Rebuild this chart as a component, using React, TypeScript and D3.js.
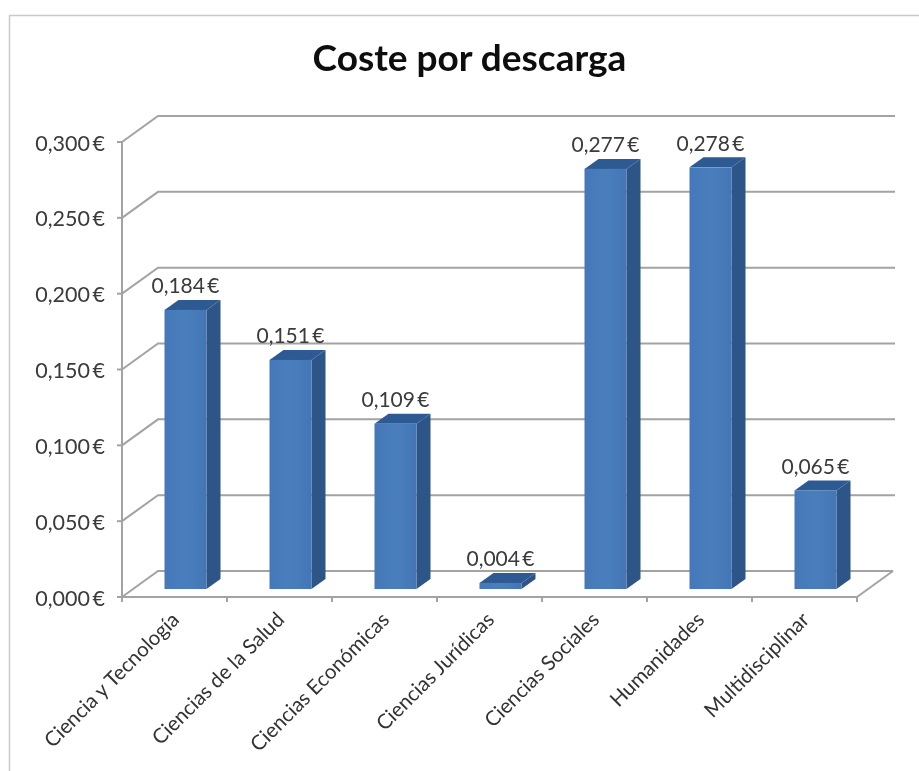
import React, { useEffect, useRef } from 'react';
import * as d3 from 'd3';

const categories = [
  'Ciencia y Tecnología',
  'Ciencias de la Salud',
  'Ciencias Económicas',
  'Ciencias Jurídicas',
  'Ciencias Sociales',
  'Humanidades',
  'Multidisciplinar',
];
const costs = [0.184, 0.151, 0.109, 0.004, 0.277, 0.278, 0.065];
const yTicks = [0, 0.05, 0.1, 0.15, 0.2, 0.25, 0.3];

const fmt = (v: number) => v.toFixed(3).replace('.', ',') + ' €';
const FONT = 'Lato, "Open Sans", sans-serif';
const GRID = '#a3a3a3';

const App: React.FC = () => {
  const svgRef = useRef<SVGSVGElement>(null);

  useEffect(() => {
    if (!svgRef.current) return;
    const svg = d3.select(svgRef.current);
    svg.selectAll('*').remove();

    // slight softness, the source is a scaled screenshot
    const defs = svg.append('defs');
    defs.append('filter')
      .attr('id', 'soft')
      .append('feGaussianBlur')
      .attr('stdDeviation', 0.6);
    const grad = defs.append('linearGradient')
      .attr('id', 'front')
      .attr('x1', 0)
      .attr('x2', 1)
      .attr('y1', 0)
      .attr('y2', 0);
    grad.append('stop').attr('offset', 0).attr('stop-color', '#4478b8');
    grad.append('stop').attr('offset', 0.5).attr('stop-color', '#4a7ebd');
    grad.append('stop').attr('offset', 1).attr('stop-color', '#4376b5');
    const root = svg.append('g').attr('filter', 'url(#soft)');

    // chart frame
    root.append('path')
      .attr('d', 'M9.5,771V15.5H919')
      .attr('fill', 'none')
      .attr('stroke', '#c9c9c9')
      .attr('stroke-width', 1.5);

    root.append('text')
      .attr('x', 469.5)
      .attr('y', 71)
      .attr('text-anchor', 'middle')
      .attr('font-family', FONT)
      .attr('font-weight', 700)
      .attr('font-size', 37)
      .attr('fill', '#111')
      .text('Coste por descarga');

    const x = d3.scaleBand().domain(categories).range([122, 857]);
    const y = d3.scaleLinear().domain([0, 0.3]).range([597, 142]);

    // 3D offsets
    const wall = { dx: 36, dy: -26 };
    const barFront = { dx: 11, dy: -8 };
    const barDepth = { dx: 14, dy: -10 };
    const barWidth = 42;

    // gridlines on back wall and the side wall diagonals
    const grid = root.append('g').attr('fill', 'none').attr('stroke', GRID).attr('stroke-width', 2);
    yTicks.forEach(t => {
      const rightX = t === 0 ? 857 + wall.dx : 857 + wall.dx + 2;
      grid.append('path').attr(
        'd',
        d3.line()([
          [x.range()[0], y(t)],
          [x.range()[0] + wall.dx, y(t) + wall.dy],
          [rightX, y(t) + wall.dy],
        ]) as string
      );
    });
    grid.append('path').attr(
      'd',
      d3.line()([
        [857, y(0)],
        [857 + wall.dx, y(0) + wall.dy],
      ]) as string
    );

    // axes
    const axes = root.append('g').attr('stroke', GRID).attr('stroke-width', 2).attr('fill', 'none');
    axes.append('line').attr('x1', 122).attr('x2', 122).attr('y1', y(0.3)).attr('y2', y(0) + 4);
    axes.append('line').attr('x1', 122).attr('x2', 857).attr('y1', y(0)).attr('y2', y(0));
    yTicks.forEach(t => {
      axes.append('line').attr('x1', 117).attr('x2', 122).attr('y1', y(t)).attr('y2', y(t));
    });
    [...categories.map(c => x(c) as number), 857].forEach(px => {
      axes.append('line').attr('x1', px).attr('x2', px).attr('y1', y(0)).attr('y2', y(0) + 5);
    });

    root.append('g')
      .selectAll('text')
      .data(yTicks)
      .enter()
      .append('text')
      .attr('x', 105)
      .attr('y', d => y(d) + 8.5)
      .attr('text-anchor', 'end')
      .attr('font-family', FONT)
      .attr('font-size', 21.5)
      .attr('word-spacing', -3)
      .attr('fill', '#3a3a3a')
      .text(fmt);

    // bars
    const bars = root.append('g')
      .selectAll('g')
      .data(categories.map((c, i) => ({ c, v: costs[i] })))
      .enter()
      .append('g');

    const left = (c: string) => (x(c) as number) + x.bandwidth() / 2 + barFront.dx - barWidth / 2;
    const top = (v: number) => y(v) + barFront.dy;
    const poly = (pts: [number, number][]) => pts.map(p => p.join(',')).join(' ');

    bars.append('polygon')
      .attr('fill', '#2f5487')
      .attr('points', d => {
        const r = left(d.c) + barWidth;
        return poly([
          [r, top(d.v)],
          [r + barDepth.dx, top(d.v) + barDepth.dy],
          [r + barDepth.dx, top(0) + barDepth.dy],
          [r, top(0)],
        ]);
      });
    bars.append('polygon')
      .attr('fill', '#2e5a94')
      .attr('points', d => {
        const l = left(d.c);
        return poly([
          [l, top(d.v)],
          [l + barDepth.dx, top(d.v) + barDepth.dy],
          [l + barWidth + barDepth.dx, top(d.v) + barDepth.dy],
          [l + barWidth, top(d.v)],
        ]);
      });
    bars.append('rect')
      .attr('x', d => left(d.c))
      .attr('y', d => top(d.v))
      .attr('width', barWidth)
      .attr('height', d => top(0) - top(d.v))
      .attr('fill', 'url(#front)');

    bars.append('text')
      .attr('x', d => left(d.c) + barWidth / 2)
      .attr('y', d => top(d.v) + barDepth.dy - 6.5)
      .attr('text-anchor', 'middle')
      .attr('font-family', FONT)
      .attr('font-size', 21)
      .attr('word-spacing', -3)
      .attr('fill', '#3a3a3a')
      .text(d => fmt(d.v));

    // rotated category labels
    root.append('g')
      .selectAll('text')
      .data(categories)
      .enter()
      .append('text')
      .attr('transform', d => `translate(${(x(d) as number) + x.bandwidth() / 2 + 6},${y(0) + 24}) rotate(-45)`)
      .attr('text-anchor', 'end')
      .attr('font-family', FONT)
      .attr('font-size', 20.5)
      .attr('fill', '#333')
      .text(d => d);
  }, []);

  return (
    <svg
      ref={svgRef}
      width={919}
      height={771}
      style={{ position: 'absolute', left: 0, top: 0, background: '#fff' }}
    />
  );
};

export default App;
